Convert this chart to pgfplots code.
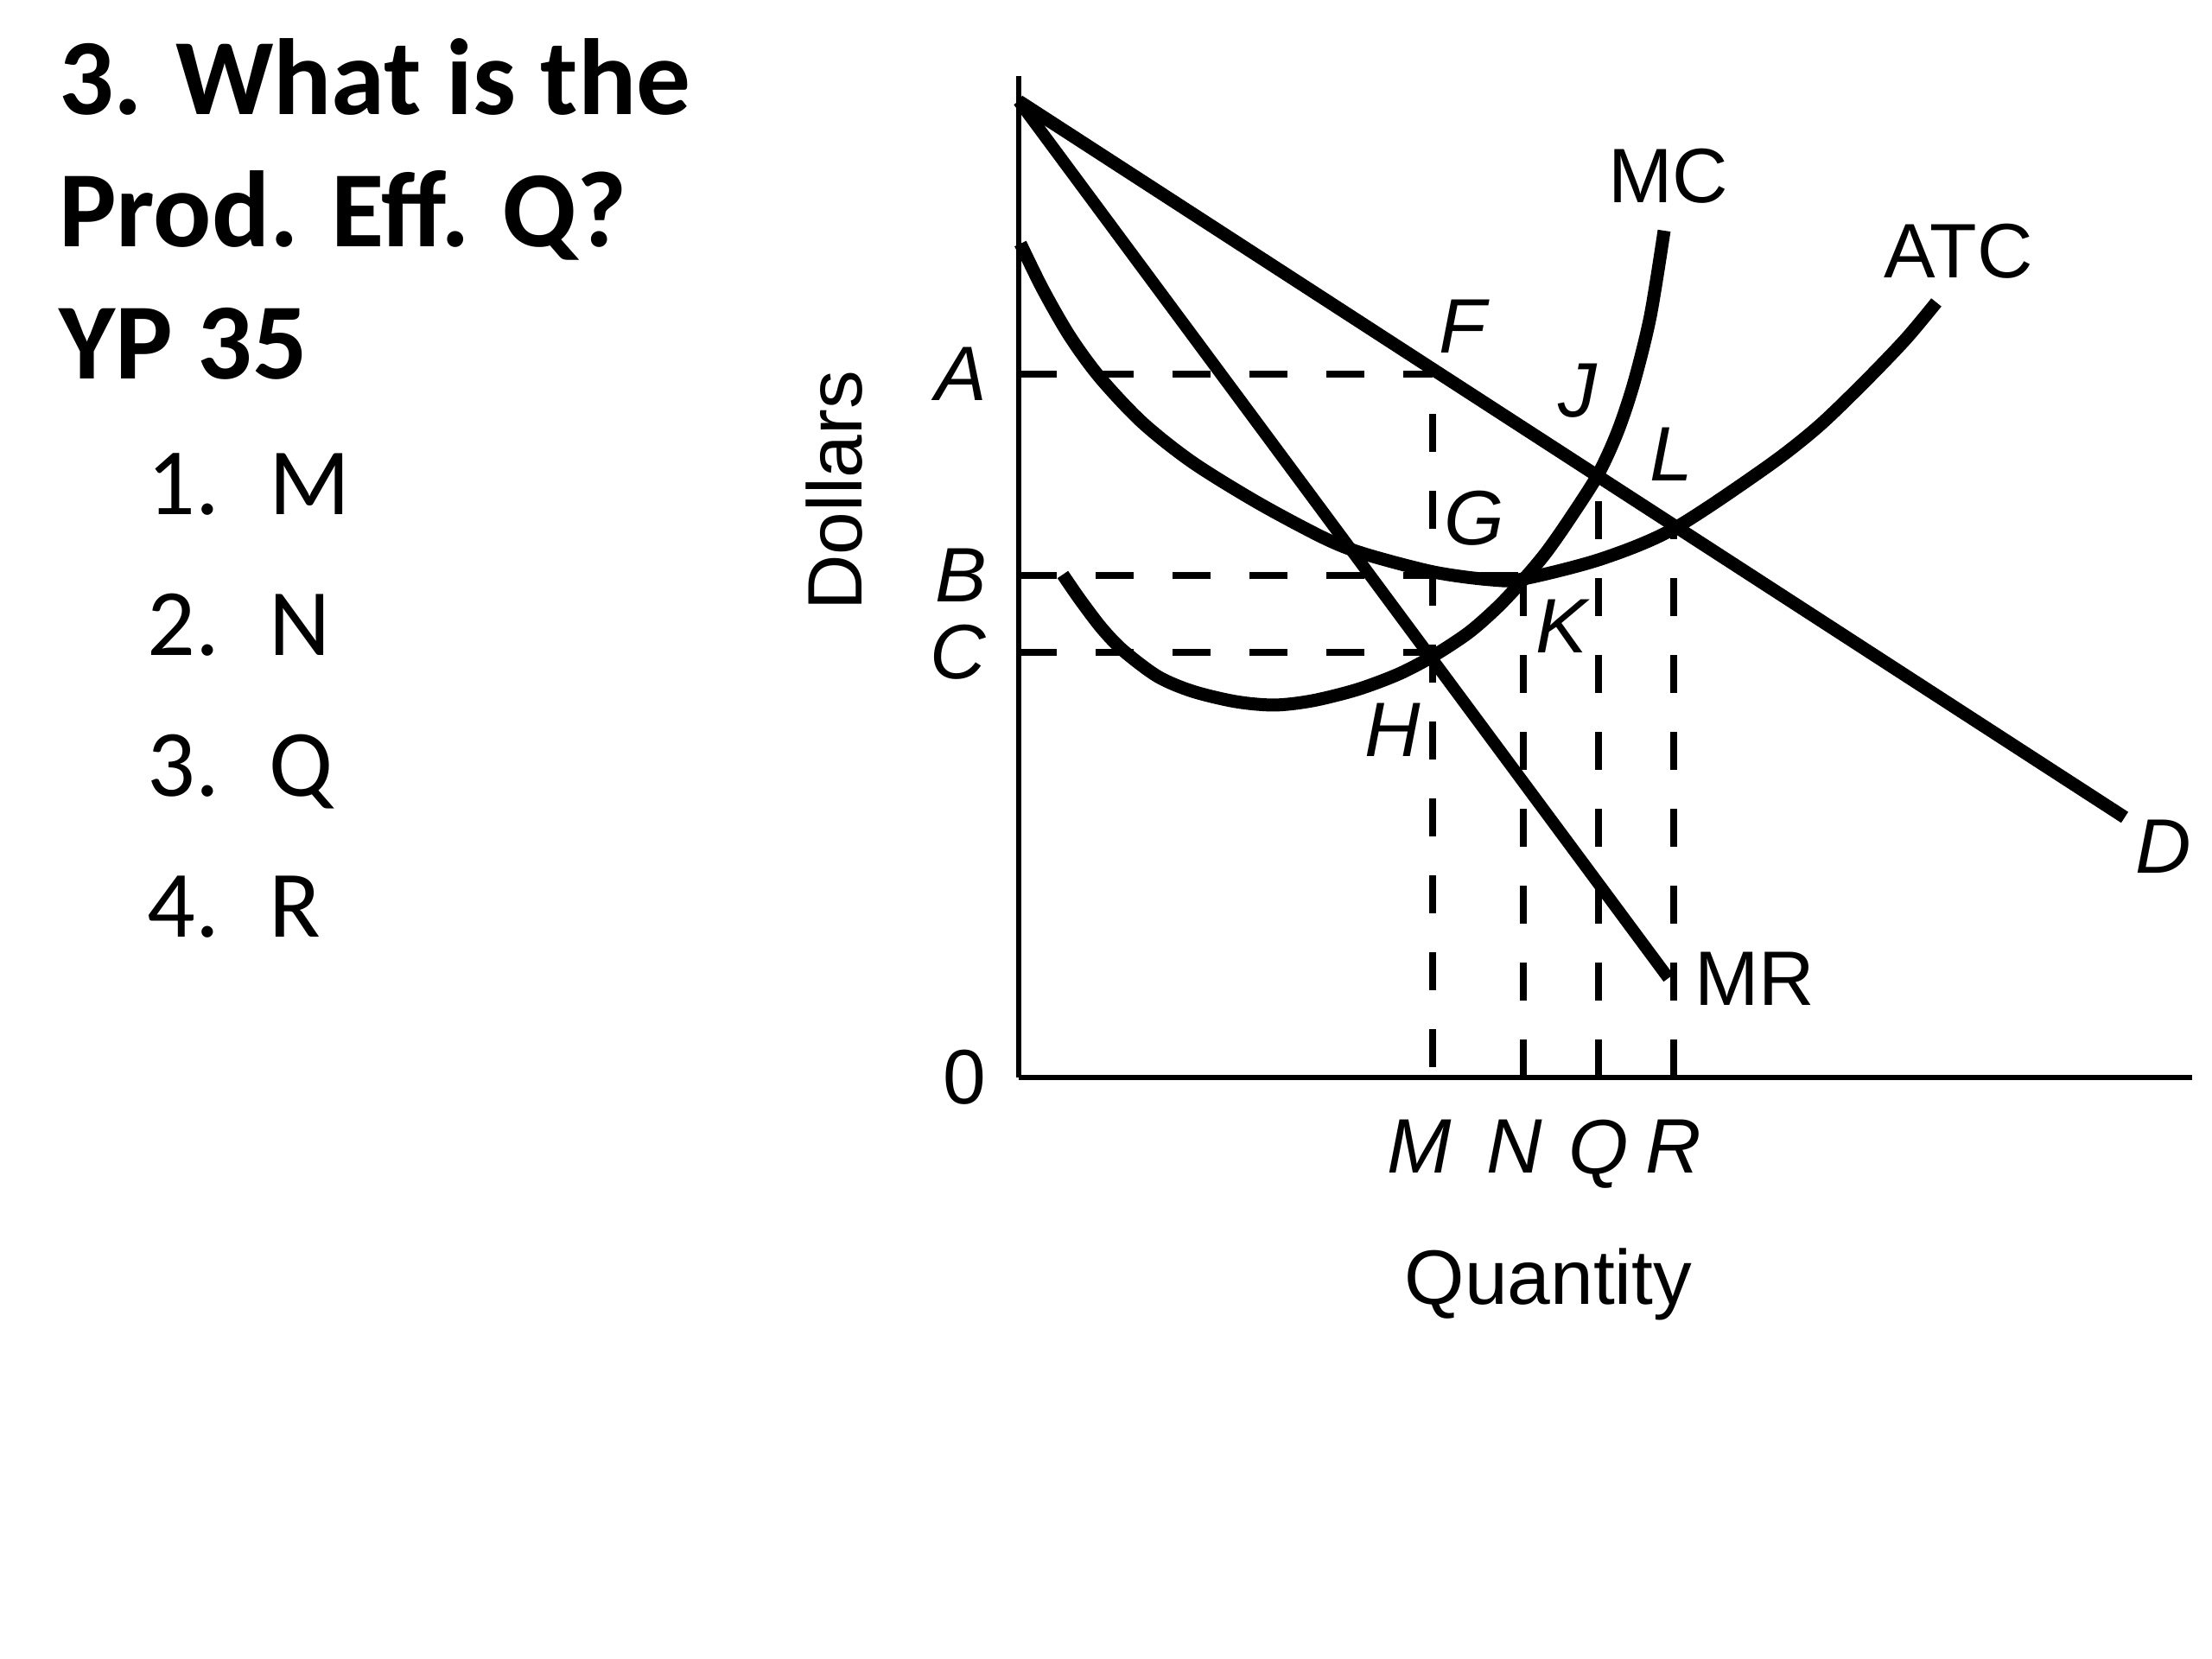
\documentclass[border=0pt]{standalone}
\usepackage{fontspec}
\setmainfont{Liberation Sans}
\newfontfamily\calibri{Carlito}
\usepackage{pgfplots}
\pgfplotsset{compat=1.18}

\begin{document}
\begin{tikzpicture}
\useasboundingbox (-176.85pt,-100.95pt) rectangle (207.15pt,187.05pt);
\begin{axis}[
    at={(0,0)}, anchor=origin,
    x=0.15pt, y=0.15pt,
    xmin=0, xmax=1358, ymin=0, ymax=1159,
    axis x line=bottom, axis y line=left,
    axis line style={-, line width=0.9pt},
    xtick={479,584,671,758},
    xticklabels={\textit{M}\kern4.5pt,\textit{N}\kern3pt,\textit{Q},\textit{R}},
    ytick={0,492,581,814},
    yticklabels={0,\textit{C},\textit{B},\raisebox{-1.6pt}{\textit{A}}},
    major tick length=0pt,
    tick label style={font=\fontsize{13.4}{16}\selectfont, inner sep=0pt},
    xticklabel style={yshift=-7.2pt},
    yticklabel style={xshift=-5.4pt},
    xlabel={Quantity}, ylabel={Dollars},
    label style={font=\fontsize{13.4}{16}\selectfont},
    xlabel style={at={(axis cs:613,-263)}, anchor=base},
    ylabel style={at={(axis cs:-181,679)}, anchor=base},
    clip=false,
]

% dashed guides
\addplot[line width=1.1pt, dash pattern=on 6.6pt off 6.75pt] coordinates {(0,814) (479,814)};
\addplot[line width=1.1pt, dash pattern=on 6.6pt off 6.75pt] coordinates {(0,581) (584,581)};
\addplot[line width=1.1pt, dash pattern=on 6.6pt off 6.75pt] coordinates {(0,492) (480,492)};
\addplot[line width=1.1pt, dash pattern=on 6.6pt off 6.75pt, dash phase=11.5pt] coordinates {(479,0) (479,814)};
\addplot[line width=1.1pt, dash pattern=on 6.6pt off 6.75pt] coordinates {(584,0) (584,578)};
\addplot[line width=1.1pt, dash pattern=on 6.6pt off 6.75pt] coordinates {(671,0) (671,697)};
\addplot[line width=1.1pt, dash pattern=on 6.6pt off 6.75pt] coordinates {(758,0) (758,636)};

% D
\addplot[line width=2.25pt] coordinates {(0,1130) (1280,301)};
% MR
\addplot[line width=2.1pt] coordinates {(0,1130) (752,115)};
% ATC
\addplot[line width=2.25pt, smooth] coordinates {
    (2,965) (28,912) (59,858) (94,810) (143,758) (201,712) (277,665)
    (354,624) (400,606) (480,585) (546,576) (584,577) (674,600) (758,635)
    (865,706) (925,753) (980,806) (1027,855) (1062,897)
};
% MC
\addplot[line width=2.25pt, smooth] coordinates {
    (51,582) (71,553) (96,520) (121,494) (161,464) (201,447) (251,435)
    (296,431) (340,436) (392,449) (440,467) (480,488) (521,515) (555,545)
    (584,576) (610,607) (636,644) (670,697) (693,747) (712,804) (731,881)
    (747,980)
};

\begin{scope}[every node/.style={font=\fontsize{13.4}{16}\selectfont, inner sep=0pt}]
\node at (axis cs:752,1043) {MC};
\node at (axis cs:1088,956) {ATC};
\node at (axis cs:852,114.5) {MR};
\node at (axis cs:1325,267) {\textit{D}};
\node at (axis cs:516,869) {\textit{F}};
\node at (axis cs:647,795) {\textit{J}};
\node at (axis cs:755,721) {\textit{L}};
\node at (axis cs:527,647) {\textit{G}};
\node at (axis cs:630,522) {\textit{K}};
\node at (axis cs:433,402) {\textit{H}};
\end{scope}

% question text
\begin{scope}[every node/.style={anchor=base west, inner sep=0pt}]
\node[font=\calibri\bfseries\fontsize{18.8}{22}\selectfont] at (axis cs:-1112,1114) {3. What is the};
\node[font=\calibri\bfseries\fontsize{18.8}{22}\selectfont] at (axis cs:-1112,961) {Prod. Eff. Q?};
\node[font=\calibri\bfseries\fontsize{18.8}{22}\selectfont] at (axis cs:-1112,808) {YP 35};
\node[font=\calibri\fontsize{16.5}{20}\selectfont] at (axis cs:-1010,651) {1.};
\node[font=\calibri\fontsize{16.5}{20}\selectfont] at (axis cs:-869,651) {M};
\node[font=\calibri\fontsize{16.5}{20}\selectfont] at (axis cs:-1010,488) {2.};
\node[font=\calibri\fontsize{16.5}{20}\selectfont] at (axis cs:-869,488) {N};
\node[font=\calibri\fontsize{16.5}{20}\selectfont] at (axis cs:-1010,325) {3.};
\node[font=\calibri\fontsize{16.5}{20}\selectfont] at (axis cs:-869,325) {Q};
\node[font=\calibri\fontsize{16.5}{20}\selectfont] at (axis cs:-1010,162) {4.};
\node[font=\calibri\fontsize{16.5}{20}\selectfont] at (axis cs:-869,162) {R};
\end{scope}

\end{axis}
\end{tikzpicture}
\end{document}
